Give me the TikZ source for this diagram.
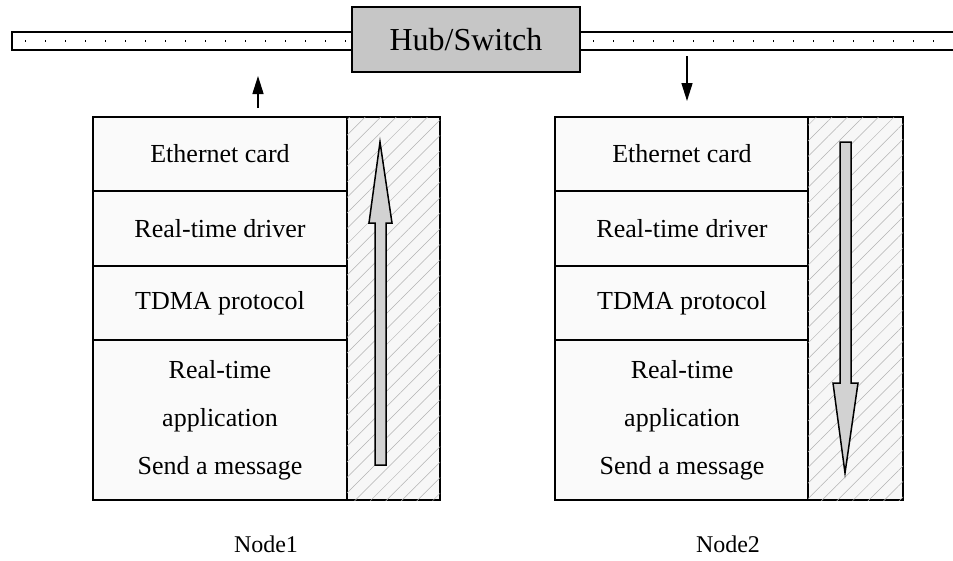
\documentclass[tikz,border=0pt]{standalone}
\usepackage{fontspec}
\setmainfont{Liberation Serif}
\usetikzlibrary{arrows.meta,patterns.meta}

\tikzset{
  cell/.style={draw=black, line width=1.4pt, fill=gray!4, inner sep=0pt,
    minimum width=254pt, font=\fontsize{26}{48}\selectfont, align=center},
  hatchcol/.style={draw=black, line width=1.5pt, fill=gray!6,
    postaction={pattern={Lines[angle=45,distance=11pt,line width=0.5pt]},
      pattern color=gray!60}},
  flow/.style={draw=black, line width=1.5pt, fill=gray!35, line join=miter},
  busline/.style={draw=black, line width=1.3pt},
  busdots/.style={draw=black, line width=1.1pt, dash pattern=on 1.2pt off 18.8pt},
  link/.style={draw=black, line width=1.5pt,
    -{Triangle[length=18pt,width=11pt]}},
  caption/.style={font=\fontsize{24}{28}\selectfont}
}

\begin{document}
\begin{tikzpicture}[x=1pt,y=-1pt]
\useasboundingbox (0,0) rectangle (953,560);

% shared bus, left and right of the hub
\draw[busline] (352,32) -- (12,32) -- (12,50) -- (352,50);
\draw[busline] (953,32) -- (580,32);
\draw[busline] (953,50) -- (580,50);
\draw[busdots] (25,41) -- (352,41);
\draw[busdots] (593,41) -- (953,41);

% hub / switch
\node[draw=black, line width=1.5pt, fill=gray!45, minimum width=228pt,
  minimum height=65pt, inner sep=0pt, font=\fontsize{32}{36}\selectfont]
  (hub) at (466,39.5) {Hub/Switch};

% ---- Node 1 protocol stack ----
\node[cell, minimum height=74pt] (n1eth) at (220,154) {Ethernet card};
\node[cell, minimum height=75pt] (n1drv) at (220,228.5) {Real-time driver};
\node[cell, minimum height=74pt] (n1tdma) at (220,303) {TDMA protocol};
\node[cell, minimum height=160pt] (n1app) at (220,420)
  {Real-time\\application\\Send a message};
\node[hatchcol, minimum width=93pt, minimum height=383pt, inner sep=0pt]
  (n1col) at (393.5,308.5) {};
\draw[flow] (375,465) -- (375,223) -- (369,223) -- (380,142) -- (392,223)
  -- (386,223) -- (386,465) -- cycle;

% ---- Node 2 protocol stack ----
\node[cell, minimum height=74pt] (n2eth) at (682,154) {Ethernet card};
\node[cell, minimum height=75pt] (n2drv) at (682,228.5) {Real-time driver};
\node[cell, minimum height=74pt] (n2tdma) at (682,303) {TDMA protocol};
\node[cell, minimum height=160pt] (n2app) at (682,420)
  {Real-time\\application\\Send a message};
\node[hatchcol, minimum width=95pt, minimum height=383pt, inner sep=0pt]
  (n2col) at (855.5,308.5) {};
\draw[flow] (840,142) -- (840,383) -- (833,383) -- (845,473) -- (858,383)
  -- (851,383) -- (851,142) -- cycle;

% traffic to and from the bus
\coordinate (up0) at (258,108);
\coordinate (up1) at (258,76);
\coordinate (dn0) at (687,56);
\coordinate (dn1) at (687,101);
\draw[link] (up0) -- (up1);
\draw[link] (dn0) -- (dn1);

% captions
\node[caption] (cap1) at (266,544) {Node1};
\node[caption] (cap2) at (728,544) {Node2};
\end{tikzpicture}
\end{document}
